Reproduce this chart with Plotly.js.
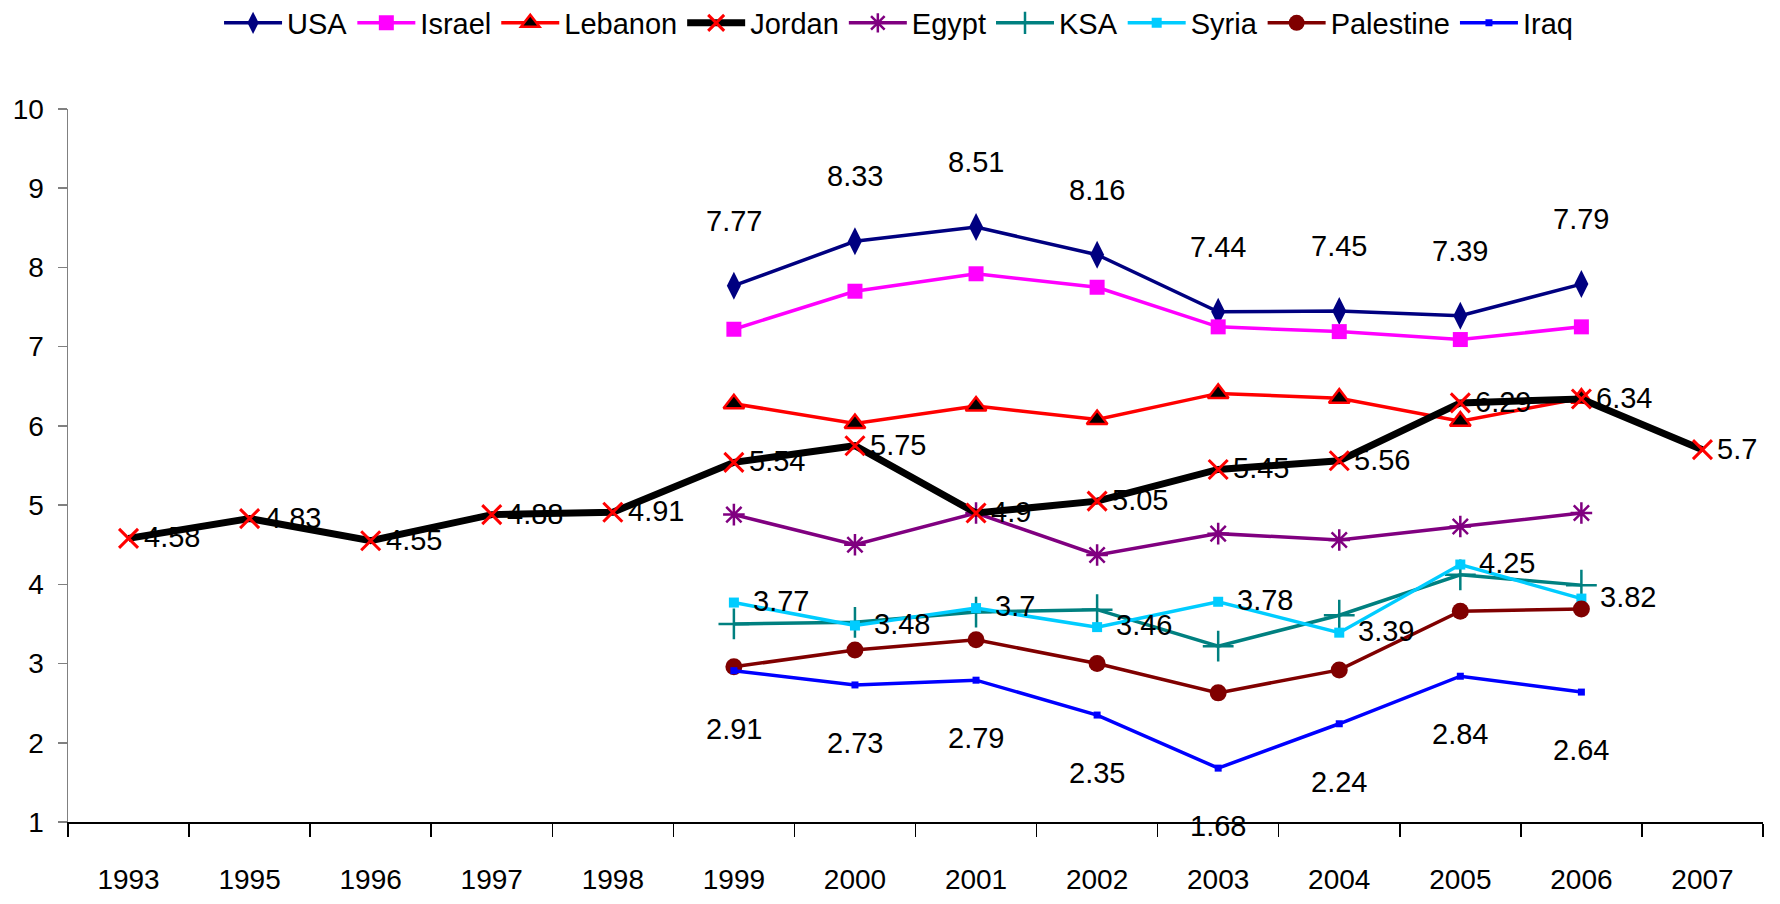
<!DOCTYPE html>
<html>
<head>
<meta charset="utf-8">
<script src="https://cdn.plot.ly/plotly-3.0.1.min.js"></script>
<style>html,body{margin:0;padding:0;background:#fff;}#chart{width:1780px;height:904px;}</style>
</head>
<body>
<div id="chart"></div>
<script>
// ---- data ----
const years = ['1993','1995','1996','1997','1998','1999','2000','2001','2002','2003','2004','2005','2006','2007'];
const years9906 = ['1999','2000','2001','2002','2003','2004','2005','2006'];

const usa       = [7.77, 8.33, 8.51, 8.16, 7.44, 7.45, 7.39, 7.79];
const israel    = [7.22, 7.70, 7.92, 7.75, 7.25, 7.19, 7.09, 7.25];
const lebanon   = [6.28, 6.03, 6.25, 6.08, 6.41, 6.35, 6.06, 6.35];
const jordan    = [4.58, 4.83, 4.55, 4.88, 4.91, 5.54, 5.75, 4.9, 5.05, 5.45, 5.56, 6.29, 6.34, 5.7];
const egypt     = [4.88, 4.50, 4.90, 4.37, 4.64, 4.56, 4.73, 4.90];
const ksa       = [3.50, 3.52, 3.65, 3.68, 3.22, 3.61, 4.12, 3.99];
const syria     = [3.77, 3.48, 3.7, 3.46, 3.78, 3.39, 4.25, 3.82];
const palestine = [2.96, 3.17, 3.30, 3.00, 2.63, 2.92, 3.66, 3.69];
const iraq      = [2.91, 2.73, 2.79, 2.35, 1.68, 2.24, 2.84, 2.64];

const FONT = '"Liberation Sans", Arial, sans-serif';

function tr(name, x, y, color, lw, symbol, msize, mcolor, mline, mlw, rank) {
  return {
    type: 'scatter', mode: 'lines+markers', name: name, x: x, y: y,
    line: {color: color, width: lw},
    marker: {symbol: symbol, size: msize, color: mcolor, line: {color: mline, width: mlw}},
    legendrank: rank, cliponaxis: false
  };
}

const data = [
  tr('USA', years9906, usa, '#000080', 3.5, 'diamond-tall', 20, '#000080', '#000080', 0, 1),
  tr('Israel', years9906, israel, '#FF00FF', 3.5, 'square', 15, '#FF00FF', '#FF00FF', 0, 2),
  tr('Lebanon', years9906, lebanon, '#FF0000', 3.5, 'triangle-up', 18, '#000000', '#FF0000', 2.5, 3),
  tr('Egypt', years9906, egypt, '#800080', 3.5, 'asterisk', 18, '#800080', '#800080', 2.5, 5),
  tr('KSA', years9906, ksa, '#008080', 3.5, 'cross-thin', 22, '#008080', '#008080', 2.5, 6),
  tr('Syria', years9906, syria, '#00CCFF', 3.5, 'square', 10, '#00CCFF', '#00CCFF', 0, 7),
  tr('Palestine', years9906, palestine, '#800000', 3.5, 'circle', 17, '#800000', '#800000', 0, 8),
  tr('Iraq', years9906, iraq, '#0000FF', 3.5, 'square', 7, '#0000FF', '#0000FF', 0, 9),
  tr('Jordan', years, jordan, '#000000', 7, 'x-thin', 19, '#FF0000', '#FF0000', 3, 4)
];

const annotations = [];
function addLabels(xs, ys, opts) {
  xs.forEach((x, i) => {
    annotations.push(Object.assign({
      x: years.indexOf(x), y: ys[i], xref: 'x', yref: 'y', text: String(ys[i]), showarrow: false,
      font: {family: FONT, size: 29, color: '#000'}
    }, opts));
  });
}
addLabels(years9906, usa, {xanchor: 'center', yanchor: 'middle', yshift: 65});
addLabels(years9906, iraq, {xanchor: 'center', yanchor: 'middle', yshift: -58});
addLabels(years, jordan, {xanchor: 'left', yanchor: 'middle', xshift: 13, yshift: 1});
addLabels(years9906, syria, {xanchor: 'left', yanchor: 'middle', xshift: 17, yshift: 2});

const layout = {
  width: 1780, height: 904,
  paper_bgcolor: '#fff', plot_bgcolor: '#fff',
  margin: {l: 68, r: 17, t: 109, b: 82, autoexpand: false},
  font: {family: FONT, color: '#000'},
  showlegend: true,
  legend: {
    orientation: 'h', x: 0.49, xanchor: 'center', y: 1.1206, yanchor: 'middle',
    font: {family: FONT, size: 29, color: '#000'},
    itemwidth: 58, tracegroupgap: 0, bgcolor: 'rgba(0,0,0,0)'
  },
  xaxis: {
    type: 'category', categoryorder: 'array', categoryarray: years,
    range: [-0.5, 13.5], showgrid: false, zeroline: false,
    showline: true, linecolor: '#000', linewidth: 1.5,
    ticks: 'outside', tickson: 'boundaries', ticklen: 13, tickcolor: '#000', tickwidth: 1.5,
    tickfont: {family: FONT, size: 28, color: '#000'},
    ticklabelstandoff: 32, fixedrange: true
  },
  yaxis: {
    range: [1, 10], dtick: 1, tick0: 1, showgrid: false, zeroline: false,
    showline: true, linecolor: '#808080', linewidth: 1.5,
    ticks: 'outside', ticklen: 9, tickcolor: '#808080', tickwidth: 1.5,
    tickfont: {family: FONT, size: 28, color: '#000'},
    ticklabelstandoff: 8, fixedrange: true
  },
  annotations: annotations
};

Plotly.newPlot('chart', data, layout, {displayModeBar: false, staticPlot: true});
</script>
</body>
</html>
